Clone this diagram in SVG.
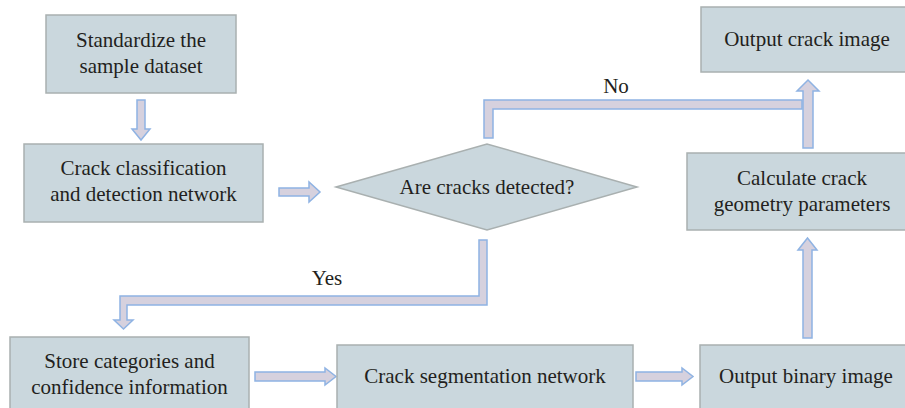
<svg xmlns="http://www.w3.org/2000/svg" width="905" height="408" viewBox="0 0 905 408">
  <style>
    .box { fill: #cad7dd; stroke: #a9b0b0; stroke-width: 1.5; }
    .arrow { fill: #d6d1de; stroke: #8fb3e3; stroke-width: 1.5; stroke-linejoin: miter; }
    text { font-family: "Liberation Serif", "Times New Roman", serif; font-size: 21px; fill: #231f20; text-anchor: middle; }
  </style>
  <rect width="905" height="408" fill="#ffffff"/>

  <g id="connectors">
    <!-- standardize -> classification -->
    <polygon class="arrow" points="137,100 145,100 145,129 150,129 141,140 132,129 137,129"/>
    <!-- classification -> decision -->
    <polygon class="arrow" points="279,188 309,188 309,182 320,192 309,202 309,196 279,196"/>
    <!-- decision "No" branch joining the upward arrow -->
    <polygon class="arrow" points="484,138 484,100 802,100 802,109 493,109 493,138"/>
    <!-- geometry parameters -> output crack image -->
    <polygon class="arrow" points="803,148 803,91 797,91 808,80 819,91 813,91 813,148"/>
    <!-- decision "Yes" branch -->
    <polygon class="arrow" points="479,240 487,240 487,305 127,305 127,320 133,320 123.5,329 114,320 120,320 120,296 479,296"/>
    <!-- store -> segmentation -->
    <polygon class="arrow" points="255,372 325,372 325,368 336,376.5 325,385 325,381 255,381"/>
    <!-- segmentation -> binary image -->
    <polygon class="arrow" points="636,372 682,372 682,368 693,376.5 682,385 682,381 636,381"/>
    <!-- binary image -> geometry parameters -->
    <polygon class="arrow" points="803,338 803,250 798,250 807.5,238 817,250 812,250 812,338"/>
    <text x="616" y="93">No</text>
    <text x="327" y="285">Yes</text>
  </g>

  <g id="standardize">
    <rect class="box" x="46" y="15" width="190" height="78"/>
    <text x="141" y="47">Standardize the</text>
    <text x="141" y="73">sample dataset</text>
  </g>

  <g id="classification">
    <rect class="box" x="24" y="144" width="239" height="78"/>
    <text x="143.5" y="175">Crack classification</text>
    <text x="143.5" y="201">and detection network</text>
  </g>

  <g id="decision">
    <polygon class="box" points="336,187 487,144 637,187 487,230"/>
    <text x="487" y="194">Are cracks detected?</text>
  </g>

  <g id="output-crack">
    <rect class="box" x="701" y="7" width="212" height="65"/>
    <text x="807" y="46">Output crack image</text>
  </g>

  <g id="geometry">
    <rect class="box" x="687" y="153" width="231" height="77"/>
    <text x="802" y="185">Calculate crack</text>
    <text x="802" y="211">geometry parameters</text>
  </g>

  <g id="store">
    <rect class="box" x="10" y="337" width="239" height="80"/>
    <text x="129.5" y="368">Store categories and</text>
    <text x="129.5" y="394">confidence information</text>
  </g>

  <g id="segmentation">
    <rect class="box" x="337" y="345" width="296" height="72"/>
    <text x="485" y="383">Crack segmentation network</text>
  </g>

  <g id="output-binary">
    <rect class="box" x="700" y="345" width="212" height="72"/>
    <text x="806" y="383">Output binary image</text>
  </g>
</svg>
